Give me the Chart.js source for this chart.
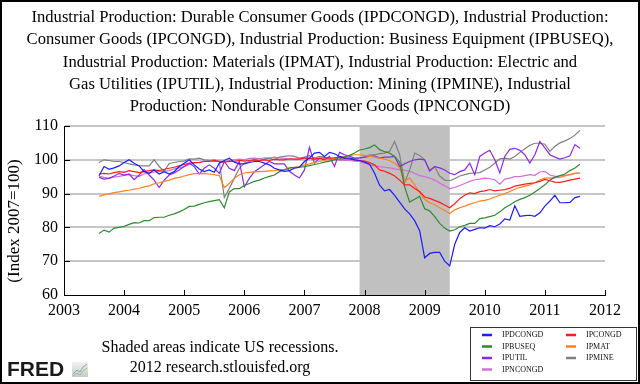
<!DOCTYPE html>
<html>
<head>
<meta charset="utf-8">
<title>Industrial Production</title>
<script src="https://cdn.jsdelivr.net/npm/chart.js@4.4.1/dist/chart.umd.min.js"></script>
<style>
  html, body { margin: 0; padding: 0; background: #fff; }
</style>
</head>
<body>
<canvas id="chartIP" width="640" height="384"></canvas>
<script>
// monthly observations, Aug 2003 .. Aug 2011 (index 2007=100)
const startYear = 2003, startMonth = 8, nMonths = 97;
const months = Array.from({ length: nMonths }, (_, i) => startYear + (startMonth - 1 + i) / 12);

const ipdcongd = [
  95.3, 98.0, 97.2, 97.6, 98.2,
  99.2, 100.0, 99.0, 98.2, 96.5, 96.0, 97.0, 95.8, 96.5, 95.8, 96.5, 98.0,
  99.0, 100.0, 98.5, 97.3, 96.5, 97.0, 96.3, 99.0, 99.8, 100.5, 99.3, 98.8,
  98.8, 99.2, 99.5, 99.5, 99.0, 98.5, 97.5, 97.0, 96.6, 96.8, 97.5, 97.8,
  99.5, 100.5, 102.0, 102.2, 101.0, 102.2, 101.8, 101.0, 100.5, 100.5, 100.0, 99.8,
  99.3, 98.7, 96.0, 92.5, 90.8, 91.2, 89.5, 87.5, 85.5, 84.0, 82.0, 79.0,
  71.0, 72.3, 72.6, 72.6, 70.0, 68.6, 75.0, 78.5, 79.9, 78.9, 79.4, 79.9,
  79.8, 80.5, 80.2, 81.0, 82.5, 82.2, 86.4, 83.3, 83.5, 83.6, 83.3, 84.3,
  86.3, 87.8, 89.5, 87.3, 87.3, 87.4, 88.8, 89.2
];
const ipcongd = [
  95.8, 96.0, 95.8, 96.2, 96.5,
  96.3, 96.8, 96.5, 96.2, 96.5, 96.8, 97.0, 96.8, 97.2, 97.5, 97.8, 98.2,
  98.6, 99.0, 99.2, 99.2, 99.5, 99.5, 99.8, 99.5, 99.2, 99.6, 99.5, 99.8,
  99.6, 99.8, 100.0, 99.8, 100.0, 99.8, 100.2, 100.0, 100.0, 100.3, 100.2, 100.2,
  100.5, 100.5, 100.2, 100.4, 100.6, 100.5, 100.6, 100.8, 100.5, 100.2, 100.0, 99.8,
  99.6, 99.2, 98.5, 97.0, 96.6, 96.0, 95.2, 94.0, 92.6, 92.6, 91.5, 90.6,
  89.0, 88.6, 88.0, 87.4, 86.6, 85.8, 87.0, 88.5, 89.5, 90.2, 90.0, 90.6,
  90.8, 91.2, 90.8, 91.0, 91.2, 91.6, 92.2, 92.5, 92.8, 93.0, 93.2, 93.6,
  94.2, 93.8, 93.4, 93.3, 93.6, 94.0, 94.3, 94.6
];
const ipbuseq = [
  78.2, 79.2, 78.6, 79.8, 80.0,
  80.3, 80.9, 81.4, 81.3, 82.0, 82.0, 82.9, 83.0, 83.0, 83.6, 84.0, 84.6,
  85.3, 86.2, 86.3, 86.8, 87.3, 87.6, 87.9, 88.2, 85.8, 90.5, 91.5, 91.5,
  92.4, 93.0, 93.6, 94.0, 94.6, 95.1, 95.5, 96.5, 97.0, 97.6, 97.8, 97.8,
  98.0, 98.3, 98.6, 98.9, 99.3, 99.6, 100.0, 100.3, 100.8, 101.3, 102.0, 102.9,
  103.2, 103.6, 104.4, 103.0, 102.4, 102.0, 101.0, 99.3, 92.0, 87.5, 88.3, 89.2,
  85.5, 84.9, 83.2, 81.2, 79.8, 78.9, 79.3, 80.2, 80.6, 81.2, 81.2, 82.6,
  82.8, 83.2, 83.6, 84.6, 85.8, 86.6, 87.6, 88.3, 88.8, 89.5, 90.5, 91.5,
  92.6, 94.0, 94.8, 95.3, 95.8, 96.8, 97.6, 98.7
];
const ipmat = [
  89.2, 89.6, 89.9, 90.3, 90.5,
  90.8, 91.0, 91.3, 91.5, 92.0, 92.3, 92.9, 93.2, 93.6, 94.0, 94.5, 94.8,
  95.2, 95.6, 95.9, 95.9, 96.0, 95.8, 95.6, 95.3, 91.8, 93.0, 94.5, 95.6,
  96.1, 96.3, 96.4, 96.5, 96.6, 96.7, 96.8, 97.0, 97.2, 97.5, 97.7, 98.0,
  98.5, 98.8, 99.2, 99.5, 99.8, 100.2, 100.5, 100.8, 101.0, 101.2, 101.5, 101.5,
  101.3, 101.0, 100.8, 100.5, 100.2, 99.8, 99.0, 97.6, 93.6, 94.6, 92.6, 90.2,
  88.3, 87.3, 86.7, 85.8, 85.0, 84.1, 85.2, 85.8, 86.3, 86.9, 87.3, 87.8,
  88.0, 88.4, 89.0, 89.5, 90.0, 90.6, 91.3, 91.8, 92.2, 92.6, 93.2, 94.0,
  94.6, 94.6, 94.7, 94.8, 95.2, 95.6, 96.0, 96.1
];
const iputil = [
  94.8, 94.3, 94.5, 95.2, 96.0,
  95.5, 95.8, 94.1, 95.5, 97.1, 95.5, 94.0, 91.8, 94.0, 95.5, 96.1, 97.0,
  98.0, 99.0, 98.0, 95.8, 97.5, 98.5, 97.5, 96.0, 99.5, 97.5, 96.8, 99.5,
  92.0, 94.5, 96.5, 97.5, 98.5, 99.5, 98.8, 98.8, 98.8, 96.6, 95.5, 94.6,
  97.0, 103.7, 99.0, 100.5, 100.0, 101.0, 98.0, 102.2, 101.5, 101.0, 100.5, 100.5,
  100.8, 101.0, 101.2, 100.5, 100.8, 100.8, 101.0, 98.0, 98.8, 99.5, 100.0, 100.2,
  100.0, 96.6, 98.0, 97.6, 97.0, 96.0, 95.6, 96.5, 97.0, 99.0, 95.6, 101.0,
  102.0, 102.8, 100.0, 96.1, 101.0, 103.1, 103.4, 102.8, 101.5, 99.0, 101.5, 105.4,
  103.5, 101.5, 100.8, 100.2, 100.6, 101.2, 104.5, 103.4
];
const ipmine = [
  99.2, 100.0, 99.8, 99.5, 99.5,
  99.2, 98.8, 98.5, 98.3, 98.2, 98.2, 100.0, 98.0, 96.6, 98.9, 99.2, 99.5,
  99.6, 100.3, 100.2, 100.5, 100.0, 99.8, 99.5, 99.5, 88.8, 91.5, 94.5, 97.5,
  99.0, 99.5, 100.0, 99.8, 100.2, 100.5, 100.0, 100.8, 101.0, 101.2, 101.0, 100.5,
  100.8, 101.2, 100.5, 101.0, 100.8, 100.2, 100.5, 100.0, 100.2, 100.3, 100.5, 100.6,
  100.8, 101.5, 101.5, 101.8, 102.0, 102.5, 105.4, 101.5, 93.3, 97.0, 102.0, 101.3,
  100.0, 97.0, 98.0, 95.2, 94.0, 93.8, 94.4, 95.2, 95.6, 96.0, 96.1, 96.2,
  97.0, 97.8, 99.0, 100.3, 100.5, 100.2, 101.0, 102.2, 103.3, 104.3, 104.9, 104.9,
  104.6, 102.5, 104.0, 105.0, 105.6, 106.3, 107.3, 108.7
];
const ipncongd = [
  95.1, 94.8, 94.6, 94.9, 95.1,
  95.4, 95.6, 95.3, 95.1, 95.8, 96.1, 96.4, 96.6, 96.6, 96.8, 97.3, 97.6,
  98.0, 98.6, 99.0, 99.2, 99.6, 99.8, 100.0, 99.6, 99.4, 99.8, 100.0, 100.2,
  100.0, 100.4, 100.5, 100.3, 100.6, 100.5, 100.8, 100.5, 100.4, 100.2, 100.2, 100.3,
  100.5, 100.3, 100.2, 100.4, 100.2, 100.0, 100.2, 100.0, 99.8, 99.8, 99.6, 99.5,
  99.0, 98.5, 98.2, 98.0, 97.8, 97.6, 97.3, 97.1, 96.9, 96.6, 96.0, 95.3,
  95.0, 94.6, 94.0, 93.1, 92.3, 91.5, 91.8, 92.4, 93.0, 93.6, 94.1, 94.3,
  94.6, 94.4, 94.1, 92.8, 94.3, 94.6, 95.0, 95.0, 95.3, 95.6, 95.4, 96.4,
  96.6, 95.5, 95.1, 95.2, 95.4, 95.6, 96.0, 96.1
];

const seriesNames = ['IPDCONGD', 'IPCONGD', 'IPBUSEQ', 'IPMAT', 'IPUTIL', 'IPMINE', 'IPNCONGD'];
const seriesValues = [ipdcongd, ipcongd, ipbuseq, ipmat, iputil, ipmine, ipncongd];
const seriesColors = ['#1c1cff', '#ff1c1c', '#2f8a2f', '#ff8020', '#8a2be2', '#808080', '#d46ed4'];

// recession start / end as decimal years
const recessions = [[2007.917, 2009.417]];

const titleLines = [
  'Industrial Production: Durable Consumer Goods (IPDCONGD), Industrial Production:',
  'Consumer Goods (IPCONGD), Industrial Production: Business Equipment (IPBUSEQ),',
  'Industrial Production: Materials (IPMAT), Industrial Production: Electric and',
  'Gas Utilities (IPUTIL), Industrial Production: Mining (IPMINE), Industrial',
  'Production: Nondurable Consumer Goods (IPNCONGD)'
];
const yTitle = '(Index 2007=100)';
const footNotes = ['Shaded areas indicate US recessions.', '2012 research.stlouisfed.org'];

const serif = '"Liberation Serif", "Times New Roman", serif';

const fredExtras = {
  id: 'fredExtras',
  beforeDatasetsDraw(chart) {
    const { ctx, chartArea, scales: { x } } = chart;
    ctx.save();
    ctx.fillStyle = '#c0c0c0';
    recessions.forEach(([a, b]) => {
      const x0 = x.getPixelForValue(a), x1 = x.getPixelForValue(b);
      ctx.fillRect(x0, chartArea.top, x1 - x0, chartArea.bottom - chartArea.top);
    });
    ctx.restore();
  },
  afterDraw(chart) {
    const { ctx, chartArea, scales: { x, y } } = chart;
    ctx.save();

    // title, centred on the whole image
    ctx.font = '16.6px ' + serif;
    ctx.fillStyle = '#000';
    ctx.textAlign = 'center';
    ctx.textBaseline = 'middle';
    titleLines.forEach((line, i) => ctx.fillText(line, 320, 17.5 + i * 22.4));

    // ticks pointing into the plot
    ctx.strokeStyle = '#000';
    ctx.lineWidth = 1;
    ctx.beginPath();
    x.ticks.forEach(t => {
      const px = Math.round(x.getPixelForValue(t.value)) + 0.5;
      ctx.moveTo(px, chartArea.bottom);
      ctx.lineTo(px, chartArea.bottom - 5);
    });
    y.ticks.forEach(t => {
      const py = Math.round(y.getPixelForValue(t.value)) + 0.5;
      ctx.moveTo(chartArea.left, py);
      ctx.lineTo(chartArea.left + 6, py);
    });
    ctx.stroke();

    // y axis title
    ctx.save();
    ctx.translate(15, 221);
    ctx.rotate(-Math.PI / 2);
    ctx.font = '17px ' + serif;
    ctx.fillStyle = '#000';
    ctx.textAlign = 'center';
    ctx.textBaseline = 'middle';
    ctx.fillText(yTitle, 0, 0);
    ctx.restore();

    // footnotes
    ctx.font = '16px ' + serif;
    ctx.fillStyle = '#000';
    ctx.textAlign = 'center';
    ctx.textBaseline = 'middle';
    ctx.fillText(footNotes[0], 220, 348);
    ctx.fillText(footNotes[1], 220, 368);

    // FRED logo
    ctx.textAlign = 'left';
    ctx.font = 'bold 21px "Liberation Sans", Arial, sans-serif';
    ctx.fillStyle = '#1a1a1a';
    ctx.fillText('FRED', 7, 370);
    const g = ctx.createLinearGradient(0, 362, 0, 377);
    g.addColorStop(0, '#f2f2f2');
    g.addColorStop(1, '#c9c9c9');
    ctx.fillStyle = g;
    ctx.fillRect(72, 362, 16, 15);
    ctx.lineWidth = 1;
    ctx.strokeStyle = '#7aa6cf';
    ctx.beginPath();
    ctx.moveTo(73, 374); ctx.lineTo(77, 370); ctx.lineTo(80, 372); ctx.lineTo(83, 367); ctx.lineTo(87, 364);
    ctx.stroke();
    ctx.strokeStyle = '#9cc47a';
    ctx.beginPath();
    ctx.moveTo(73, 376); ctx.lineTo(77, 373); ctx.lineTo(80, 375); ctx.lineTo(84, 370); ctx.lineTo(87, 368);
    ctx.stroke();

    // legend box
    const lx = 470, ly = 327, lw = 166, lh = 53;
    ctx.fillStyle = '#fff';
    ctx.fillRect(lx, ly, lw, lh);
    ctx.strokeStyle = '#333';
    ctx.lineWidth = 1;
    ctx.strokeRect(lx + 0.5, ly + 0.5, lw, lh);
    ctx.font = '8px ' + serif;
    ctx.textBaseline = 'middle';
    chart.data.datasets.forEach((ds, i) => {
      const col = i % 2, row = Math.floor(i / 2);
      const ix = lx + 12 + col * 84, iy = ly + 8 + row * 11.5;
      ctx.strokeStyle = ds.borderColor;
      ctx.lineWidth = 2.5;
      ctx.beginPath();
      ctx.moveTo(ix, iy);
      ctx.lineTo(ix + 10, iy);
      ctx.stroke();
      ctx.fillStyle = '#111';
      ctx.fillText(ds.label, ix + 20, iy);
    });

    // outer frame
    ctx.strokeStyle = '#000';
    ctx.lineWidth = 2;
    ctx.strokeRect(1, 1, 638, 382);
    ctx.restore();
  }
};

new Chart(document.getElementById('chartIP'), {
  type: 'line',
  data: {
    labels: months,
    datasets: seriesNames.map((name, i) => ({
      label: name,
      data: seriesValues[i],
      borderColor: seriesColors[i],
      borderWidth: 1.2,
      pointRadius: 0,
      tension: 0,
      fill: false
    }))
  },
  options: {
    responsive: false,
    animation: false,
    layout: { padding: { left: 6, right: 35, top: 126, bottom: 64 } },
    plugins: {
      legend: { display: false },
      tooltip: { enabled: false },
      title: { display: false }
    },
    scales: {
      x: {
        type: 'linear',
        min: 2003,
        max: 2012,
        afterFit(scale) { scale.height = 25; },
        grid: { display: false, drawTicks: false },
        border: { display: true, color: '#000', width: 1 },
        ticks: {
          stepSize: 1,
          autoSkip: false,
          maxRotation: 0,
          padding: 6,
          color: '#000',
          font: { family: serif, size: 16 },
          callback: v => String(v)
        }
      },
      y: {
        min: 60,
        max: 110,
        afterFit(scale) { scale.width = 58; },
        grid: {
          drawTicks: false,
          lineWidth: 2,
          color: c => (c.tick && c.tick.value === 60) ? 'rgba(0,0,0,0)' : '#c6c6c6'
        },
        border: { display: true, color: '#000', width: 1 },
        ticks: {
          stepSize: 10,
          padding: 6,
          color: '#000',
          font: { family: serif, size: 16 }
        }
      }
    }
  },
  plugins: [fredExtras]
});
</script>
</body>
</html>
